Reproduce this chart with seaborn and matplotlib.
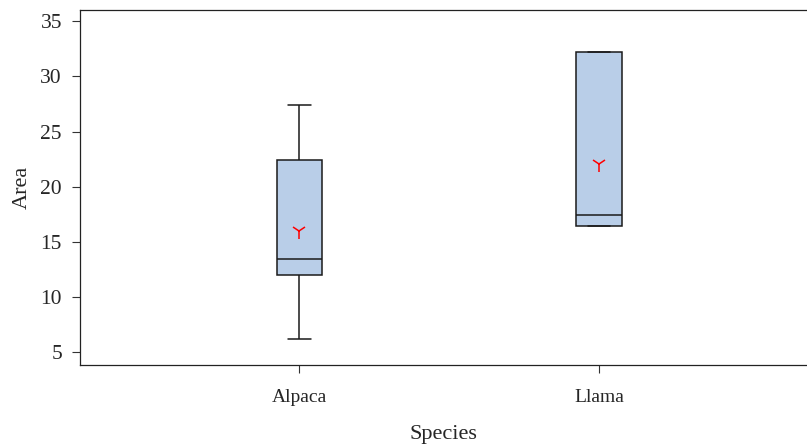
import matplotlib
matplotlib.use("Agg")
import matplotlib.pyplot as plt
import seaborn as sns
import pandas as pd

# Observed areas per species
alpaca_area = [6.2, 9.0, 12.0, 12.5, 13.4, 16.0, 22.4, 25.2, 27.4]
llama_area = [16.4, 16.4, 16.4, 16.4, 17.4, 18.9, 32.2, 32.2, 32.2]
species = ["Alpaca", "Llama"]
y_ticks = [5, 10, 15, 20, 25, 30, 35]

df = pd.DataFrame({
    "Species": [species[0]] * len(alpaca_area) + [species[1]] * len(llama_area),
    "Area": alpaca_area + llama_area,
})

sns.set_theme(style="ticks")
plt.rcParams["font.family"] = ["Liberation Serif", "DejaVu Serif"]

fig = plt.figure(figsize=(8.07, 4.46), dpi=100)
W, H = 807, 446
ax = fig.add_axes([80 / W, 1 - 365 / H, (807 - 80) / W, (365 - 9.5) / H])

sns.boxplot(
    data=df, x="Species", y="Area", order=species, ax=ax,
    width=0.1525, color="#B9CEE8", saturation=1, linecolor="#1a1a1a",
    linewidth=1.1, showfliers=False, showmeans=True,
    meanprops=dict(marker="1", markeredgecolor="red", markerfacecolor="red",
                   markersize=11, markeredgewidth=1.1),
)

ax.set_xlim(-0.732, 1.694)
ax.set_ylim(3.82, 36.07)
ax.set_yticks(y_ticks)
ax.set_yticklabels([str(t) for t in y_ticks])

for side in ["left", "top", "bottom"]:
    ax.spines[side].set_visible(True)
    ax.spines[side].set_color("#222222")
    ax.spines[side].set_linewidth(0.9)
ax.spines["right"].set_visible(False)

ax.tick_params(axis="both", direction="out", length=6, width=0.8,
               color="#333333")
ax.tick_params(axis="y", labelsize=15.5, pad=7)
ax.tick_params(axis="x", labelsize=14, pad=11)
ax.set_xlabel("Species", fontsize=16, labelpad=14)
ax.set_ylabel("Area", fontsize=16, labelpad=6)

fig.savefig("out.png", dpi=100)
